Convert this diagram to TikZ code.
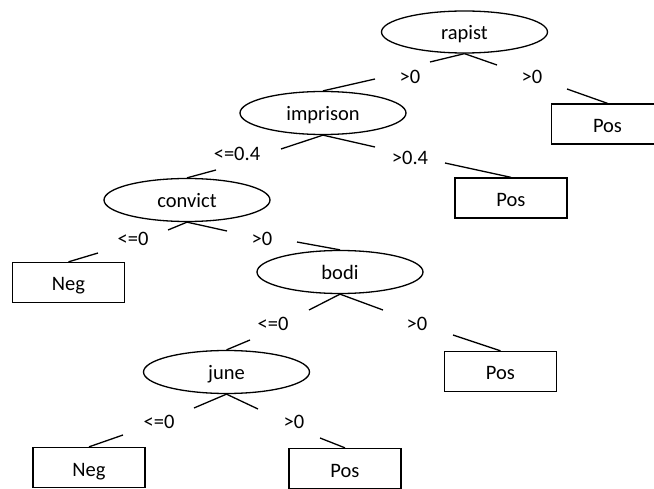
\documentclass[tikz,border=0pt]{standalone}
\usepackage{fontspec}
\setmainfont{Carlito}
\usetikzlibrary{shapes.geometric}
\begin{document}
\begin{tikzpicture}[x=1pt,y=-1pt,
  every node/.style={font=\fontsize{20.5}{24}\selectfont, inner sep=0pt},
  test/.style={draw, ellipse, line width=1.3pt, minimum width=166pt, minimum height=43pt,
    text height=16pt, text depth=0pt},
  leaf/.style={draw, rectangle, line width=1.3pt, minimum width=112pt, minimum height=40pt,
    text height=17pt, text depth=0pt},
  branch/.style={line width=1.3pt}]
\useasboundingbox (0,0) rectangle (654,489);

% decision nodes
\node[test, minimum height=42pt] (rapist) at (464.5,32) {rapist};
\node[test] (imprison) at (323,113) {imprison};
\node[test] (convict) at (187,200) {convict};
\node[test] (bodi) at (340,272) {bodi};
\node[test] (june) at (226.5,372) {june};

% leaves
\node[leaf] (posA) at (607.5,124) {Pos};
\node[leaf] (posB) at (511,198) {Pos};
\node[leaf] (negA) at (68.5,282.5) {Neg};
\node[leaf] (posC) at (500.5,371.5) {Pos};
\node[leaf] (negB) at (89,467.5) {Neg};
\node[leaf] (posD) at (345,468.5) {Pos};

% branch labels
\node (l1) at (410,77) {>0};
\node (l2) at (532,77) {>0};
\node (l3) at (237,154) {<=0.4};
\node (l4) at (410,158) {>0.4};
\node (l5) at (133,239) {<=0};
\node (l6) at (262,239) {>0};
\node (l7) at (273,324) {<=0};
\node (l8) at (417,324) {>0};
\node (l9) at (159,422) {<=0};
\node (l10) at (294,422) {>0};

% ends of the broken branch lines
\coordinate (a1) at (430,62);
\coordinate (a2) at (497,65);
\coordinate (a3) at (375,79);
\coordinate (a4) at (567,89);
\coordinate (b1) at (281,149);
\coordinate (b2) at (375,147);
\coordinate (b3) at (216,170);
\coordinate (b4) at (445,163);
\coordinate (c1) at (168,230);
\coordinate (c2) at (227,231);
\coordinate (c3) at (98,253);
\coordinate (c4) at (297,242);
\coordinate (d1) at (309,310);
\coordinate (d2) at (383,310);
\coordinate (d3) at (250,340);
\coordinate (d4) at (453,335);
\coordinate (e1) at (194,408);
\coordinate (e2) at (258,409);
\coordinate (e3) at (123,435);
\coordinate (e4) at (320,438);

% branches
\draw[branch] (rapist.south) -- (a1);
\draw[branch] (rapist.south) -- (a2);
\draw[branch] (a3) -- (imprison.north);
\draw[branch] (a4) -- (posA.north);

\draw[branch] (imprison.south) -- (b1);
\draw[branch] (imprison.south) -- (b2);
\draw[branch] (b3) -- (convict.north);
\draw[branch] (b4) -- (posB.north);

\draw[branch] (convict.south) -- (c1);
\draw[branch] (convict.south) -- (c2);
\draw[branch] (c3) -- (negA.north);
\draw[branch] (c4) -- (bodi.north);

\draw[branch] (bodi.south) -- (d1);
\draw[branch] (bodi.south) -- (d2);
\draw[branch] (d3) -- (june.north);
\draw[branch] (d4) -- (posC.north);

\draw[branch] (june.south) -- (e1);
\draw[branch] (june.south) -- (e2);
\draw[branch] (e3) -- (negB.north);
\draw[branch] (e4) -- (posD.north);
\end{tikzpicture}
\end{document}
